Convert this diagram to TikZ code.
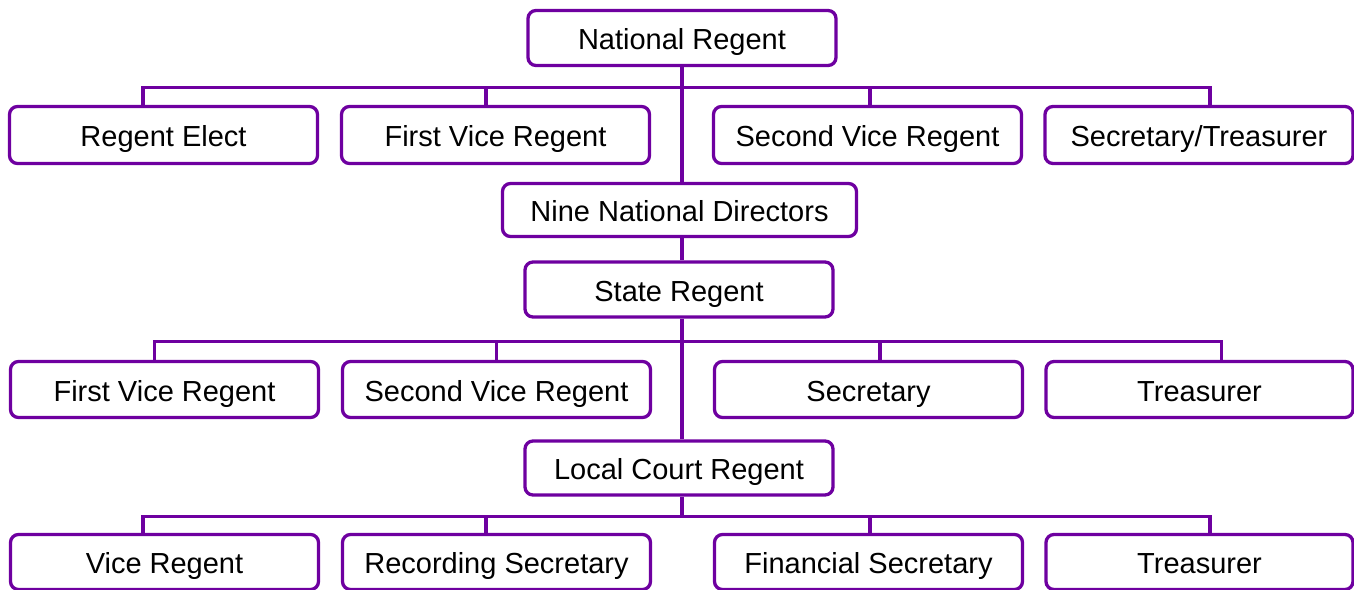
\documentclass[tikz,border=0pt]{standalone}
\usepackage{fontspec}
\setmainfont{Liberation Sans}
\usepackage{tikz}
\definecolor{regentpurple}{RGB}{110,0,160}
\tikzset{
  office/.style={draw=regentpurple, line width=3.3pt, rounded corners=8pt,
    minimum width=308pt, minimum height=55pt, inner sep=0pt,
    text height=23pt, text depth=0pt, font=\fontsize{29}{34}\selectfont},
  link/.style={draw=regentpurple, line width=3.3pt},
}

\begin{document}
\begin{tikzpicture}[x=1pt,y=-1pt]
  \useasboundingbox (0,0) rectangle (1354,589);
  % National level
  \node[office] (nr) at (682,38) {National Regent};
  \node[office,minimum height=57pt] (re)   at (163.5,135) {Regent Elect};
  \node[office,minimum height=57pt] (fvr1) at (495.5,135) {First Vice Regent};
  \node[office,minimum height=57pt] (svr1) at (867.5,135) {Second Vice Regent};
  \node[office,minimum height=57pt] (st1)  at (1199,135)  {Secretary/Treasurer};
  \node[office,minimum width=354pt,minimum height=53pt] (nnd) at (679.5,210) {Nine National Directors};
  % State level
  \node[office] (sr) at (679,289.5) {State Regent};
  \node[office,minimum height=56pt] (fvr2) at (164.5,389.5) {First Vice Regent};
  \node[office,minimum height=56pt] (svr2) at (496.5,389.5) {Second Vice Regent};
  \node[office,minimum height=56pt] (sec2) at (868.5,389.5) {Secretary};
  \node[office,minimum height=56pt,minimum width=307pt] (tr2) at (1199.5,389.5) {Treasurer};
  % Local level
  \node[office,minimum height=54pt] (lcr) at (679,468) {Local Court Regent};
  \node[office] (vr3) at (164.5,562) {Vice Regent};
  \node[office] (rs3) at (496.5,562) {Recording Secretary};
  \node[office] (fs3) at (868.5,562) {Financial Secretary};
  \node[office,minimum width=307pt] (tr3) at (1199.5,562) {Treasurer};

  % Trunk
  \draw[link] (nr.south) -- (nr.south |- nnd.north);
  \draw[link] (nr.south |- nnd.south) -- (nr.south |- sr.north);
  \draw[link] (nr.south |- sr.south) -- (nr.south |- lcr.north);
  \coordinate (bus3) at (682,516.5);
  \draw[link] (nr.south |- lcr.south) -- (bus3);

  % Bus lines
  \coordinate (bus1w) at (143,87.5);   \coordinate (bus1e) at (1210,87.5);
  \coordinate (bus2w) at (154.5,341.5); \coordinate (bus2e) at (1221.5,341.5);
  \coordinate (bus3w) at (143,516.5);  \coordinate (bus3e) at (1210,516.5);
  \draw[link] (bus1w |- re.north) -- (bus1w) -- (bus1e) -- (bus1e |- st1.north);
  \draw[link] (bus2w |- fvr2.north) -- (bus2w) -- (bus2e) -- (bus2e |- tr2.north);
  \draw[link] (bus3w |- vr3.north) -- (bus3w) -- (bus3e) -- (bus3e |- tr3.north);
  % Inner drops
  \foreach \x/\y/\n in {486/87.5/fvr1, 870/87.5/svr1, 496.5/341.5/svr2,
                        880/341.5/sec2, 486/516.5/rs3, 870/516.5/fs3}{
    \coordinate (drop) at (\x,\y);
    \draw[link] (drop) -- (drop |- \n.north);
  }
\end{tikzpicture}
\end{document}
